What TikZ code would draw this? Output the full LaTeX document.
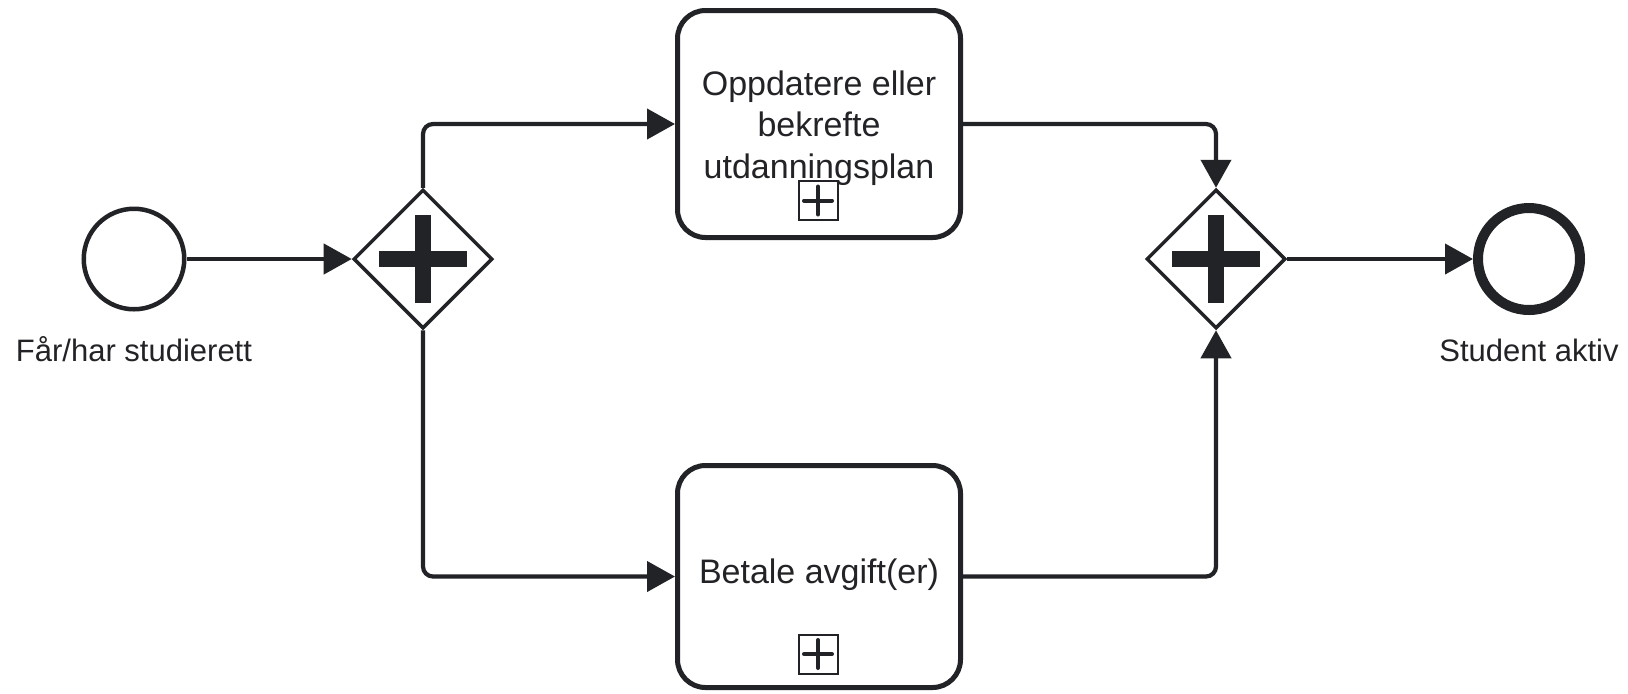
\documentclass[tikz,border=0pt]{standalone}
\usepackage{fontspec}
\setmainfont{Liberation Sans}
\usetikzlibrary{arrows.meta,shapes.geometric}
\definecolor{ink}{HTML}{222326}
\tikzset{
  startev/.style={circle, draw=ink, line width=2.25pt, inner sep=0pt, minimum size=50.25pt, fill=white},
  endev/.style={circle, draw=ink, line width=5pt, inner sep=0pt, minimum size=51pt, fill=white},
  gateway/.style={diamond, aspect=1, draw=ink, line width=1.75pt, inner sep=0pt, minimum width=69.5pt, minimum height=69.5pt, fill=white},
  taskbox/.style={rectangle, rounded corners=14pt, draw=ink, line width=2.5pt, inner sep=0pt, minimum width=141.5pt, fill=white},
  marker/.style={rectangle, draw=ink, line width=1pt, inner sep=0pt, minimum size=19.5pt},
  markerplus/.style={draw=ink, line width=2pt, line cap=round},
  plusbar/.style={draw=ink, line width=8.35pt},
  tasktext/.style={font=\fontsize{17pt}{20.75pt}\selectfont, text=ink, align=center, inner sep=0pt},
  lbl/.style={font=\fontsize{15.5pt}{18pt}\selectfont, text=ink, inner sep=0pt},
  flow/.style={draw=ink, line width=2.1pt, rounded corners=5pt, -{Triangle[length=14pt,width=15pt]}}
}
\newcommand\gwplus[1]{%
  \draw[plusbar] ([xshift=-22pt]#1.center) -- ([xshift=22pt]#1.center);
  \draw[plusbar] ([yshift=-22pt]#1.center) -- ([yshift=22pt]#1.center);}
\newcommand\subplus[1]{%
  \draw[markerplus] ([xshift=-7pt]#1.center) -- ([xshift=7pt]#1.center);
  \draw[markerplus] ([yshift=-7pt]#1.center) -- ([yshift=7pt]#1.center);}
\begin{document}
\begin{tikzpicture}[x=0.5pt,y=-0.5pt]
\useasboundingbox (0,0) rectangle (1628,693);
\fill[white] (0,0) rectangle (1628,693);

\node[startev] (start) at (134,259) {};
\node[gateway] (g1) at (423,259) {};
\node[taskbox, minimum height=113.5pt] (t1) at (819,124) {};
\node[taskbox, minimum height=111pt] (t2) at (819,576.5) {};
\node[gateway] (g2) at (1216,259) {};
\node[endev] (end) at (1529,259) {};

\gwplus{g1}
\gwplus{g2}

\node[tasktext] (t1text) at (819,128) {Oppdatere eller\\bekrefte\\utdanningsplan};
\node[tasktext, anchor=base] (t2text) at (819,583) {Betale avgift(er)};

\node[marker] (m1) at (818,200.5) {};
\subplus{m1}
\node[marker] (m2) at (818,654) {};
\subplus{m2}

\node[lbl, anchor=base] (l1) at (134,361) {Får/har studierett};
\node[lbl, anchor=base] (l2) at (1529,361) {Student aktiv};

\draw[flow] (start) -- (g1);
\draw[flow] (g1.north) |- (t1.west);
\draw[flow] (g1.south) |- (t2.west);
\draw[flow] (t1.east) -| (g2.north);
\draw[flow] (t2.east) -| (g2.south);
\draw[flow] (g2) -- (end);
\end{tikzpicture}
\end{document}
